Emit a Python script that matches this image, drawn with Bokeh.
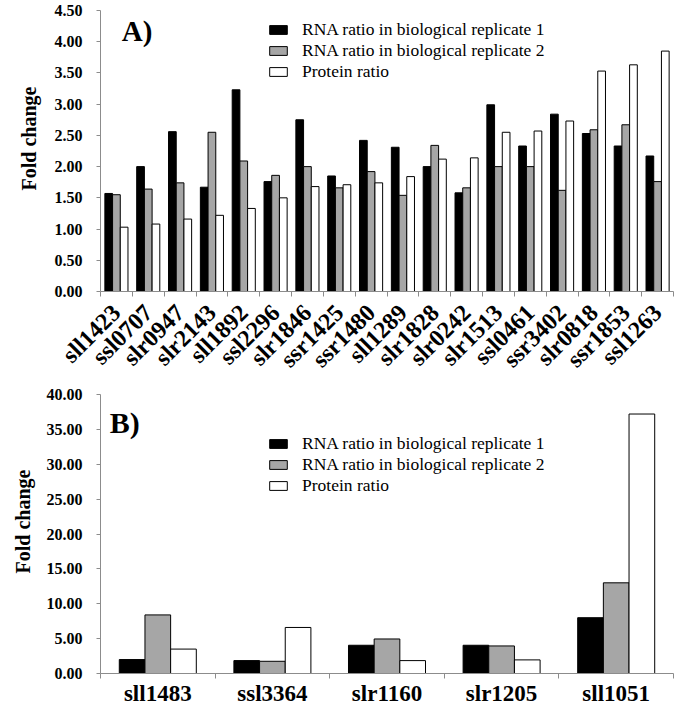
from math import pi
import numpy as np
from bokeh.plotting import figure
from bokeh.models import (Range1d, FixedTicker, NumeralTickFormatter, Legend,
                          LegendItem, Label)
from bokeh.layouts import column
from bokeh.embed import file_html
from bokeh.resources import INLINE

# ---------------- data ----------------
genes_a = ["sll1423", "ssl0707", "slr0947", "slr2143", "sll1892", "ssl2296",
           "slr1846", "ssr1425", "ssr1480", "sll1289", "slr1828", "slr0242",
           "slr1513", "ssl0461", "ssr3402", "slr0818", "ssr1853", "ssl1263"]
rna1_a = [1.57, 2.00, 2.56, 1.67, 3.23, 1.76, 2.75, 1.85, 2.42, 2.31, 2.00, 1.58,
          2.99, 2.33, 2.84, 2.53, 2.33, 2.17]
rna2_a = [1.55, 1.64, 1.74, 2.55, 2.09, 1.86, 2.00, 1.66, 1.92, 1.54, 2.34, 1.66,
          2.00, 2.00, 1.62, 2.59, 2.67, 1.76]
prot_a = [1.03, 1.08, 1.16, 1.22, 1.33, 1.50, 1.68, 1.71, 1.74, 1.84, 2.12, 2.14,
          2.55, 2.57, 2.73, 3.53, 3.63, 3.85]
yticks_a = [0.0, 0.5, 1.0, 1.5, 2.0, 2.5, 3.0, 3.5, 4.0, 4.5]

genes_b = ["sll1483", "ssl3364", "slr1160", "slr1205", "sll1051"]
rna1_b = [2.0, 1.85, 4.05, 4.05, 8.0]
rna2_b = [8.4, 1.75, 4.95, 3.95, 13.0]
prot_b = [3.5, 6.6, 1.85, 1.95, 37.2]
yticks_b = [0, 5, 10, 15, 20, 25, 30, 35, 40]

series_names = ["RNA ratio in biological replicate 1",
                "RNA ratio in biological replicate 2",
                "Protein ratio"]
series_colors = ["#000000", "#a6a6a6", "#ffffff"]
y_title = "Fold change"

FONT = "Liberation Serif"
AXIS_GRAY = "#8c8c8c"


def build(genes, values, yticks, *, width, height, borders, bar_width,
          xlabel_size, xlabel_angle, xlabel_standoff, ytick_size,
          title_standoff, title_shift, letter, letter_pos, letter_size,
          legend_loc):
    n = len(genes)
    bl, br, bt, bb = borders
    p = figure(width=width, height=height,
               x_range=Range1d(0, n), y_range=Range1d(0, yticks[-1]),
               output_backend="svg", toolbar_location=None,
               min_border_left=bl, min_border_right=br,
               min_border_top=bt, min_border_bottom=bb)
    p.xgrid.visible = False
    p.ygrid.visible = False
    p.outline_line_color = None
    p.background_fill_color = "white"

    centers = np.arange(n) + 0.5
    items = []
    for k, (vals, name, color) in enumerate(zip(values, series_names, series_colors)):
        r = p.vbar(x=centers + (k - 1) * bar_width, top=vals, bottom=0,
                   width=bar_width, fill_color=color, line_color="black",
                   line_width=1)
        items.append(LegendItem(label=name, renderers=[r]))

    xa = p.xaxis[0]
    xa.ticker = FixedTicker(ticks=[float(c) for c in centers],
                            minor_ticks=list(range(n + 1)))
    xa.major_label_overrides = {float(c): g for c, g in zip(centers, genes)}
    xa.major_label_text_font = FONT
    xa.major_label_text_font_style = "bold"
    xa.major_label_text_font_size = xlabel_size
    xa.major_label_text_color = "black"
    xa.major_label_orientation = xlabel_angle
    xa.major_label_standoff = xlabel_standoff
    xa.major_tick_out = 0
    xa.major_tick_in = 0
    xa.minor_tick_out = 5
    xa.minor_tick_in = 0
    xa.minor_tick_line_color = AXIS_GRAY
    xa.axis_line_color = AXIS_GRAY

    ya = p.yaxis[0]
    ya.ticker = FixedTicker(ticks=yticks)
    ya.formatter = NumeralTickFormatter(format="0.00")
    ya.major_label_text_font = FONT
    ya.major_label_text_font_style = "bold"
    ya.major_label_text_font_size = ytick_size
    ya.major_label_text_color = "black"
    ya.major_tick_out = 4
    ya.major_tick_in = 0
    ya.minor_tick_line_color = None
    ya.major_tick_line_color = AXIS_GRAY
    ya.axis_line_color = AXIS_GRAY
    ya.major_label_standoff = 14
    # leading no-break spaces nudge the centred title a little upwards,
    # as in the original figure
    ya.axis_label = "\u00a0" * title_shift + y_title
    ya.axis_label_text_font = FONT
    ya.axis_label_text_font_style = "bold"
    ya.axis_label_text_font_size = "20px"
    ya.axis_label_text_color = "black"
    ya.axis_label_standoff = title_standoff

    leg = Legend(items=items, location=legend_loc, glyph_width=22,
                 glyph_height=11, label_standoff=13, label_height=19,
                 spacing=-2, padding=0, margin=0, border_line_color=None,
                 background_fill_alpha=0, label_text_font=FONT,
                 label_text_font_size="17.5px", label_text_color="black")
    p.add_layout(leg)

    p.add_layout(Label(x=letter_pos[0], y=letter_pos[1], text=letter,
                       text_font=FONT, text_font_style="bold",
                       text_font_size=letter_size, text_baseline="middle",
                       text_color="black"))
    return p


p1 = build(genes_a, [rna1_a, rna2_a, prot_a], yticks_a,
           width=684, height=384, borders=(90, 1, 10, 92), bar_width=0.242,
           xlabel_size="24px", xlabel_angle=pi / 4, xlabel_standoff=12,
           ytick_size="16px", title_standoff=12, title_shift=5,
           letter="A)", letter_pos=(0.67, 4.17), letter_size="29px",
           legend_loc=(167, 209))

p2 = build(genes_b, [rna1_b, rna2_b, prot_b], yticks_b,
           width=684, height=325, borders=(100, 11, 10, 36), bar_width=0.224,
           xlabel_size="23px", xlabel_angle="horizontal", xlabel_standoff=2,
           ytick_size="16px", title_standoff=10, title_shift=5,
           letter="B)", letter_pos=(0.08, 36.0), letter_size="30px",
           legend_loc=(167, 177))

layout = column(p1, p2)
open("out.html", "w").write(file_html(layout, INLINE))
